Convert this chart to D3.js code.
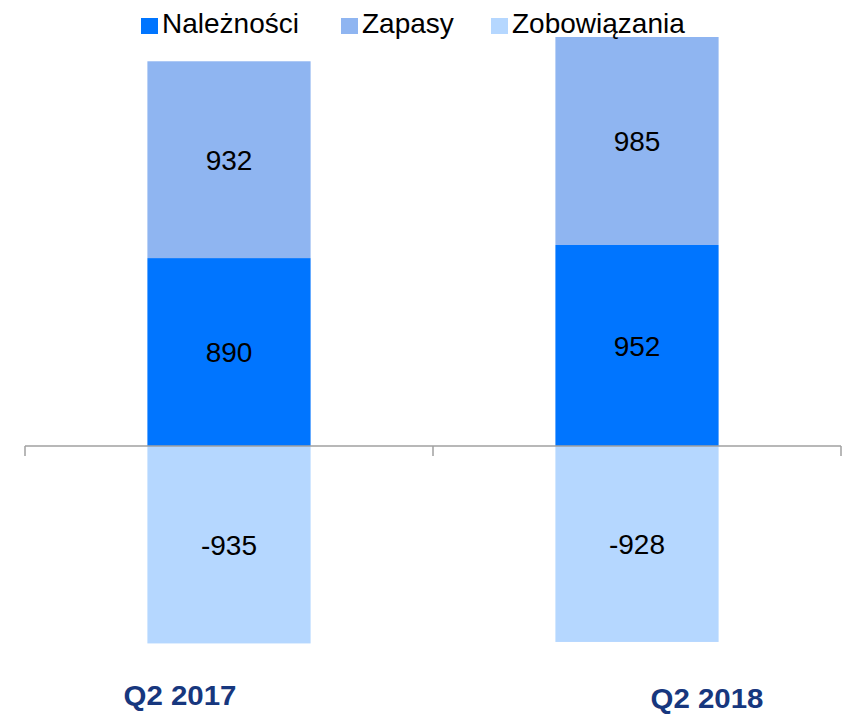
<!DOCTYPE html>
<html>
<head>
<meta charset="utf-8">
<script src="https://cdn.jsdelivr.net/npm/d3@7"></script>
<style>
	body { margin: 0; background: #fff; }
	svg { display: block; font-family: "Liberation Sans", Arial, sans-serif; }
</style>
</head>
<body>
<svg width="843" height="714"></svg>
<script>
const CATEGORIES = ["Q2 2017", "Q2 2018"];
const SERIES = ["Należności", "Zapasy", "Zobowiązania"];
const NALEZNOSCI = [890, 952];
const ZAPASY = [932, 985];
const ZOBOWIAZANIA = [-935, -928];
const COLORS = ["#0075FF", "#8FB5F1", "#B5D7FF"];
// the category labels sit off-centre in the original
const LABEL_SHIFT = [-49, 70];
const LABEL_Y = [705, 708];

const svg = d3.select("svg");

const x = d3.scaleBand()
	.domain(CATEGORIES)
	.range([25, 841])
	.padding(0);

const y = d3.scaleLinear()
	.domain([0, 1937])
	.range([446, 37]);

const barWidth = x.bandwidth() * 0.4;

// stack positives upward, negatives downward
const rows = CATEGORIES.map((c, i) => {
	let segs = [];
	segs.push({ key: SERIES[0], y0: 0, y1: NALEZNOSCI[i], v: NALEZNOSCI[i] });
	segs.push({ key: SERIES[1], y0: NALEZNOSCI[i], y1: NALEZNOSCI[i] + ZAPASY[i], v: ZAPASY[i] });
	segs.push({ key: SERIES[2], y0: ZOBOWIAZANIA[i], y1: 0, v: ZOBOWIAZANIA[i] });
	return { cat: c, segs: segs };
});

const color = d3.scaleOrdinal().domain(SERIES).range(COLORS);

const groups = svg.append("g")
	.selectAll("g")
	.data(rows)
	.enter().append("g")
	.attr("transform", (d) => "translate(" + (x(d.cat) + x.bandwidth() / 2 - barWidth / 2) + ",0)");

groups.selectAll("rect")
	.data((d) => d.segs)
	.enter().append("rect")
	.attr("x", 0)
	.attr("y", (d) => y(d.y1))
	.attr("width", barWidth)
	.attr("height", (d) => y(d.y0) - y(d.y1))
	.attr("fill", (d) => color(d.key));

groups.selectAll("text")
	.data((d) => d.segs)
	.enter().append("text")
	.attr("x", barWidth / 2)
	.attr("y", (d) => (y(d.y0) + y(d.y1)) / 2)
	.attr("dy", "0.36em")
	.attr("text-anchor", "middle")
	.attr("font-size", 28)
	.attr("fill", "#000")
	.text((d) => d.v);

// axis at zero
const axis = svg.append("g")
	.attr("transform", "translate(0," + y(0) + ")");
axis.append("line")
	.attr("x1", 25).attr("x2", 841)
	.attr("stroke", "#A0A0A0").attr("stroke-width", 1.5);
axis.selectAll(".tick")
	.data(x.domain().map((c) => x(c)).concat([x.range()[1]]))
	.enter().append("line")
	.attr("x1", (d) => d).attr("x2", (d) => d)
	.attr("y1", 0).attr("y2", 10)
	.attr("stroke", "#A0A0A0").attr("stroke-width", 1.5);

// category labels
svg.append("g")
	.selectAll("text")
	.data(CATEGORIES)
	.enter().append("text")
	.attr("x", (d, i) => x(d) + x.bandwidth() / 2 + LABEL_SHIFT[i])
	.attr("y", (d, i) => LABEL_Y[i])
	.attr("text-anchor", "middle")
	.attr("font-size", 28)
	.attr("font-weight", "bold")
	.attr("fill", "#17377E")
	.attr("textLength", 113)
	.attr("lengthAdjust", "spacingAndGlyphs")
	.text((d) => d);

// legend
const LEGEND_X = [141, 341, 491];
const legend = svg.append("g")
	.selectAll("g")
	.data(SERIES)
	.enter().append("g")
	.attr("transform", (d, i) => "translate(" + LEGEND_X[i] + ",0)");
legend.append("rect")
	.attr("x", 0).attr("y", 18)
	.attr("width", 17).attr("height", 16)
	.attr("fill", (d) => color(d));
legend.append("text")
	.attr("x", 21).attr("y", 33)
	.attr("font-size", 28)
	.attr("fill", "#000")
	.text((d) => d);
</script>
</body>
</html>
